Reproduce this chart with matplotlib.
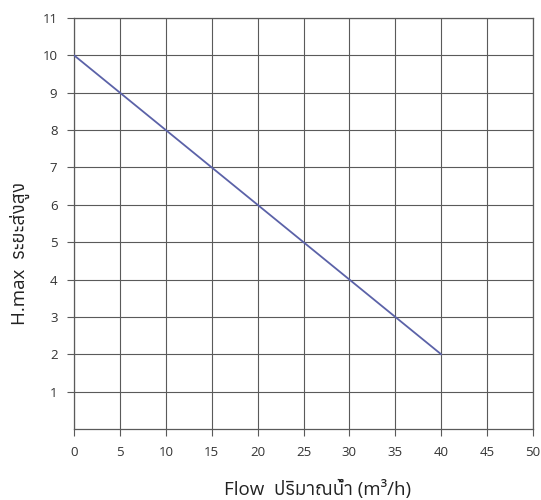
import matplotlib
matplotlib.use("Agg")
import matplotlib.pyplot as plt
from matplotlib import font_manager
from matplotlib.ft2font import FT2Font

# data
flow = [0, 40]
head = [10, 2]
x_ticks = [0, 5, 10, 15, 20, 25, 30, 35, 40, 45, 50]
y_ticks = [1, 2, 3, 4, 5, 6, 7, 8, 9, 10, 11]
y_label = "H.max  ระยะส่งสูง"
x_label = "Flow  ปริมาณน้ำ (m³/h)"

# find installed fonts with Thai glyphs, prefer a loopless one
thai_fonts = []
for f in font_manager.fontManager.ttflist:
    try:
        if 0x0E23 in FT2Font(f.fname).get_charmap():
            thai_fonts.append(f.name)
    except Exception:
        pass
thai_fonts = sorted(set(thai_fonts), key=lambda n: ("Looped" in n, n))
families = ["Open Sans"] + thai_fonts[:1] + ["DejaVu Sans"]
plt.rcParams['font.family'] = families

fig = plt.figure(figsize=(5.41, 5.0), dpi=100)
ax = fig.add_axes([0.137, 0.142, 0.848, 0.822])

ax.plot(flow, head, color="#5b62a8", lw=1.3, zorder=3)

ax.set_xlim(0, 50)
ax.set_ylim(0, 11)
ax.set_xticks(x_ticks)
ax.set_yticks(y_ticks)
ax.grid(True, color="#5a5a5a", lw=0.8)
for s in ax.spines.values():
    s.set_color("#5a5a5a")
    s.set_linewidth(0.9)
ax.tick_params(colors="#5a5a5a", labelcolor="#333333", labelsize=9.5, length=5, width=0.8, pad=7)

ax.set_xlabel(x_label, fontsize=13.5, color="#222222", va="center")
ax.set_ylabel(y_label, fontsize=13.5, color="#222222", va="center")
ax.xaxis.set_label_coords(0.53, -0.146)
ax.yaxis.set_label_coords(-0.118, 0.428)

fig.savefig("out.png", dpi=100)
